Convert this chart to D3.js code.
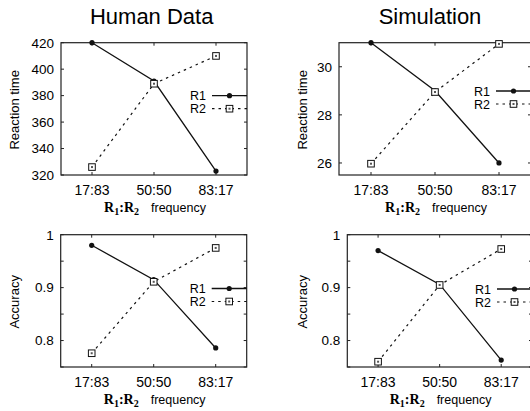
<!DOCTYPE html>
<html>
<head>
<meta charset="utf-8">
<script src="https://cdn.jsdelivr.net/npm/d3@7"></script>
<style>
  body { margin: 0; background: #fff; }
  svg { display: block; font-family: "Liberation Sans", Arial, sans-serif; }
</style>
</head>
<body>
<svg id="chart" width="530" height="411"></svg>
<script>
// R1:R2 frequency conditions
const categories = ['17:83', '50:50', '83:17'];

const humanRtR1 = [420, 391, 323];
const humanRtR2 = [326, 389, 410];
const simRtR1 = [31, 29, 26];
const simRtR2 = [25.97, 28.95, 30.95];
const humanAccR1 = [0.98, 0.915, 0.786];
const humanAccR2 = [0.776, 0.911, 0.975];
const simAccR1 = [0.97, 0.906, 0.763];
const simAccR2 = [0.76, 0.905, 0.973];

const rtHumanTicks = [320, 340, 360, 380, 400, 420];
const rtSimTicks = [26, 28, 30];
const accTicks = [0.75, 0.8, 0.85, 0.9, 0.95, 1];
const accLabels = { 0.8: '0.8', 0.9: '0.9', 1: '1' };

const panels = [
  { box: [61, 247, 42.7, 175], y: [320, 420], r1: humanRtR1, r2: humanRtR2, ticks: rtHumanTicks,
    fmt: d => d, ylabel: 'Reaction time', legY: 95.7 },
  { box: [339, 531, 42.7, 175], y: [25.5, 31], r1: simRtR1, r2: simRtR2, ticks: rtSimTicks,
    fmt: d => d, ylabel: 'Reaction time', legY: 91 },
  { box: [60.7, 246.7, 234.7, 367], y: [0.75, 1], r1: humanAccR1, r2: humanAccR2, ticks: accTicks,
    fmt: d => accLabels[d] || '', ylabel: 'Accuracy', legY: 288.5 },
  { box: [347.3, 532, 234.7, 367], y: [0.75, 1], r1: simAccR1, r2: simAccR2, ticks: accTicks,
    fmt: d => accLabels[d] || '', ylabel: 'Accuracy', legY: 289 }
];

const svg = d3.select('#chart');

svg.append('text').attr('x', 151.7).attr('y', 24).attr('text-anchor', 'middle')
  .style('font-size', '22px').text('Human Data');
svg.append('text').attr('x', 430).attr('y', 24).attr('text-anchor', 'middle')
  .style('font-size', '22px').text('Simulation');

panels.forEach(drawPanel);

function drawPanel(p){
  const [x0, x1, y0, y1] = p.box;
  const x = d3.scaleLinear().domain([0.5, 3.5]).range([x0, x1]);
  const y = d3.scaleLinear().domain(p.y).range([y1, y0]);
  const g = svg.append('g');
  const idx = [1, 2, 3];

  // frame
  g.append('rect').attr('x', x0).attr('y', y0).attr('width', x1 - x0).attr('height', y1 - y0)
    .attr('fill', 'none').attr('stroke', '#222').attr('stroke-width', 1.2);

  // inward ticks, mirrored on all sides
  const tk = 3;
  p.ticks.forEach(t => {
    const ty = y(t);
    g.append('line').attr('x1', x0).attr('x2', x0 + tk).attr('y1', ty).attr('y2', ty).attr('stroke', '#222');
    g.append('line').attr('x1', x1).attr('x2', x1 - tk).attr('y1', ty).attr('y2', ty).attr('stroke', '#222');
    g.append('text').attr('x', x0 - 7).attr('y', ty).attr('dy', '0.36em')
      .attr('text-anchor', 'end').style('font-size', '13.5px').text(p.fmt(t));
  });
  idx.forEach((c, i) => {
    const tx = x(c);
    g.append('line').attr('x1', tx).attr('x2', tx).attr('y1', y1).attr('y2', y1 - tk).attr('stroke', '#222');
    g.append('line').attr('x1', tx).attr('x2', tx).attr('y1', y0).attr('y2', y0 + tk).attr('stroke', '#222');
    g.append('text').attr('x', tx).attr('y', y1 + 20).attr('text-anchor', 'middle')
      .style('font-size', '14px').text(categories[i]);
  });

  // y label
  const lx = x0 < 100 ? 15 : 302.7;
  const ly = (y0 + y1) / 2 + 1;
  g.append('text').attr('transform', `translate(${lx + 4},${ly}) rotate(-90)`)
    .attr('text-anchor', 'middle').style('font-size', '13px').text(p.ylabel);

  // x label: R1:R2 frequency
  const xl = g.append('text').attr('x', (x0 + x1) / 2 + 1).attr('y', y1 + 37)
    .attr('text-anchor', 'middle').style('font-size', '12.5px');
  const serif = s => xl.append('tspan').style('font-family', '"Liberation Serif", serif')
    .style('font-weight', 'bold').style('font-size', '14px').text(s);
  const sub = s => xl.append('tspan').style('font-family', '"Liberation Serif", serif')
    .style('font-weight', 'bold').style('font-size', '10px').attr('dy', 3).text(s);
  serif('R'); sub('1');
  xl.append('tspan').attr('dy', -3).style('font-family', '"Liberation Serif", serif')
    .style('font-weight', 'bold').style('font-size', '14px').text(':R');
  sub('2');
  xl.append('tspan').attr('dy', -3).attr('dx', 12).text('frequency');

  const line = d3.line().x((d, i) => x(i + 1)).y(d => y(d));

  // R2 dotted
  g.append('path').datum(p.r2).attr('d', line).attr('fill', 'none')
    .attr('stroke', '#111').attr('stroke-width', 1.2).attr('stroke-dasharray', '2.5,4');
  // R1 solid
  g.append('path').datum(p.r1).attr('d', line).attr('fill', 'none')
    .attr('stroke', '#111').attr('stroke-width', 1.3);

  g.selectAll('.r1pt').data(p.r1).join('circle')
    .attr('cx', (d, i) => x(i + 1)).attr('cy', d => y(d)).attr('r', 2.6).attr('fill', '#111');
  p.r2.forEach((d, i) => square(g, x(i + 1), y(d)));

  // legend
  const lx0 = x1 - 35, lmid = (lx0 + x1) / 2;
  [['R1', 0], ['R2', 13]].forEach(([name, off]) => {
    const yy = p.legY + off;
    g.append('text').attr('x', lx0 - 6).attr('y', yy).attr('dy', '0.36em')
      .attr('text-anchor', 'end').style('font-size', '12.5px').text(name);
    const ln = g.append('line').attr('x1', lx0).attr('x2', x1).attr('y1', yy).attr('y2', yy)
      .attr('stroke', '#111');
    if(name === 'R1'){
      ln.attr('stroke-width', 1.3);
      g.append('circle').attr('cx', lmid).attr('cy', yy).attr('r', 2.6).attr('fill', '#111');
    } else {
      ln.attr('stroke-width', 1.2).attr('stroke-dasharray', '2.5,4');
      square(g, lmid, yy);
    }
  });
}

function square(g, cx, cy){
  g.append('rect').attr('x', cx - 3.3).attr('y', cy - 3.3).attr('width', 6.6).attr('height', 6.6)
    .attr('fill', '#fff').attr('stroke', '#111').attr('stroke-width', 1);
  g.append('rect').attr('x', cx - 1).attr('y', cy - 1).attr('width', 2).attr('height', 2)
    .attr('fill', '#555');
}
</script>
</body>
</html>
